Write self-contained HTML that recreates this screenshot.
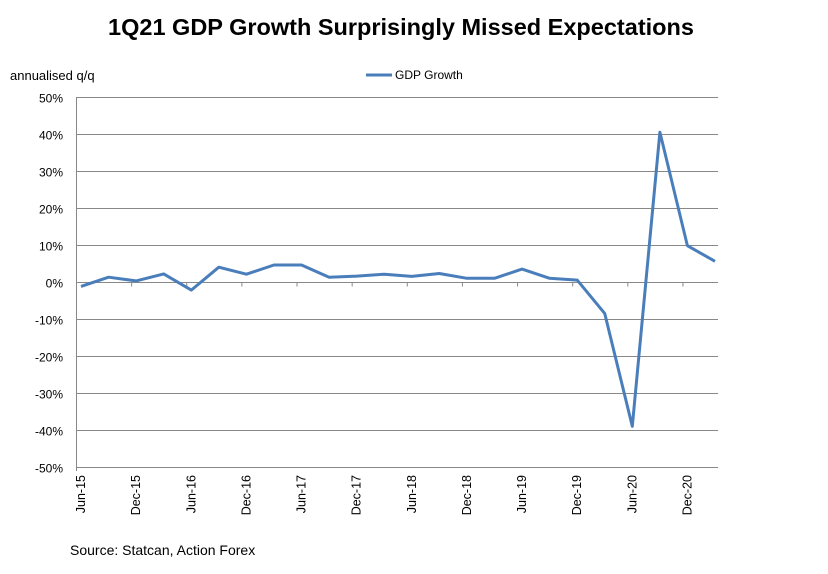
<!DOCTYPE html>
<html><head><meta charset="utf-8"><style>
body{margin:0;background:#fff;font-family:"Liberation Sans",Arial,sans-serif}
svg text{font-family:"Liberation Sans",Arial,sans-serif}
</style></head><body>
<svg id="c" width="828" height="569" xmlns="http://www.w3.org/2000/svg">
<text x="401" y="35" text-anchor="middle" font-size="23.5" font-weight="bold">1Q21 GDP Growth Surprisingly Missed Expectations</text>
<text x="10" y="80" font-size="13">annualised q/q</text>
<g><line x1="366" y1="75" x2="392" y2="75" stroke="#4a7ebb" stroke-width="3"/><text x="395" y="79" font-size="12">GDP Growth</text></g>
<g id="grid"></g><g id="axes"></g><g id="series"></g>
<text x="70" y="555" font-size="14">Source: Statcan, Action Forex</text>
</svg>
<script>
const categories=["Jun-15","Sep-15","Dec-15","Mar-16","Jun-16","Sep-16","Dec-16","Mar-17","Jun-17","Sep-17","Dec-17","Mar-18","Jun-18","Sep-18","Dec-18","Mar-19","Jun-19","Sep-19","Dec-19","Mar-20","Jun-20","Sep-20","Dec-20","Mar-21"];
const gdpGrowth=[-1.2,1.3,0.3,2.2,-2.2,4.0,2.1,4.6,4.6,1.3,1.6,2.1,1.5,2.3,1.0,1.0,3.5,1.0,0.5,-8.5,-39,40.5,9.8,5.6];
const yTicks=[50,40,30,20,10,0,-10,-20,-30,-40,-50];
const NS="http://www.w3.org/2000/svg";
const x0=81,x1=715,yTop=97,yBot=467,left=76.5,right=718;
const xs=i=>x0+(x1-x0)*i/(categories.length-1);
const ys=v=>yTop+(50-v)/100*(yBot-yTop);
function mk(t,a,p){const e=document.createElementNS(NS,t);for(const k in a)e.setAttribute(k,a[k]);p.appendChild(e);return e;}
const grid=document.getElementById('grid'),axes=document.getElementById('axes'),ser=document.getElementById('series');
yTicks.forEach(v=>{
 const y=Math.round(ys(v))+0.5;
 const l=mk('line',{x1:left,x2:right,y1:y,y2:y,stroke:'#888','stroke-width':1},grid);
 
 
 const t=mk('text',{x:63,y:y+5,'text-anchor':'end','font-size':12},axes);
 t.textContent=v+'%';
 
 
});
const ax=mk('line',{x1:left,x2:left,y1:yTop,y2:yBot+4,stroke:'#888'},axes);


const zy=Math.round(ys(0))+0.5;
categories.forEach((c,i)=>{
 if(i%2===0){
  const x=xs(i);
  const tk=mk('line',{x1:x-4.5,x2:x-4.5,y1:zy,y2:zy+4,stroke:'#888'},axes);
  
  
  const t=mk('text',{x:0,y:0,'text-anchor':'end','font-size':12.5,transform:`translate(${x+4},${yBot+8}) rotate(-90)`},axes);
  t.textContent=c;
  
  
 }
});
const pts=gdpGrowth.map((v,i)=>xs(i).toFixed(1)+','+ys(v).toFixed(1)).join(' ');
const pl=mk('polyline',{points:pts,fill:'none',stroke:'#4a7ebb','stroke-width':3,'stroke-linejoin':'round'},ser);


</script>
</body></html>
